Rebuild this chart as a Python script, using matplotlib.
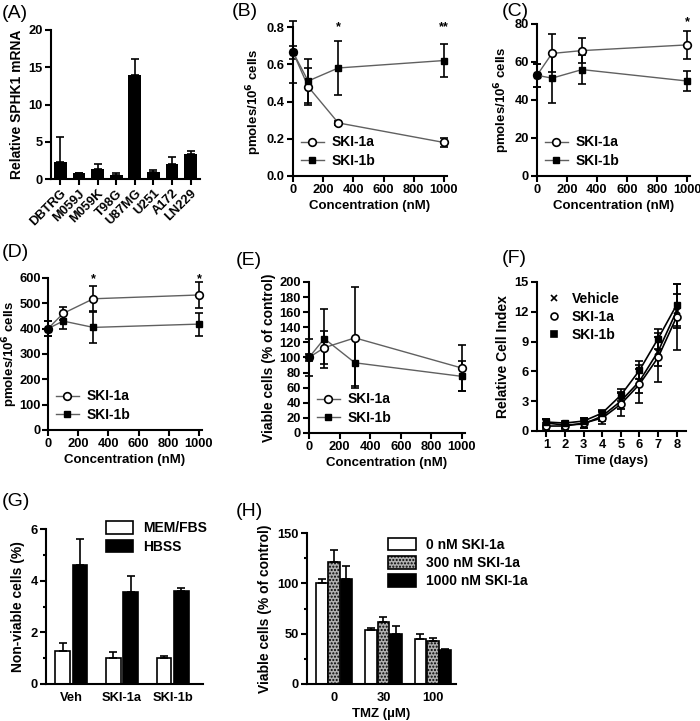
import numpy as np
import matplotlib
matplotlib.use("Agg")
import matplotlib.pyplot as plt
from matplotlib.lines import Line2D

plt.rcParams['font.family'] = ['Liberation Sans', 'DejaVu Sans']
plt.rcParams['font.weight'] = 'bold'
plt.rcParams['axes.labelweight'] = 'bold'
plt.rcParams['axes.linewidth'] = 1.5
plt.rcParams['xtick.major.width'] = 1.5
plt.rcParams['ytick.major.width'] = 1.5
plt.rcParams['xtick.minor.width'] = 1.5
plt.rcParams['ytick.minor.width'] = 1.5
plt.rcParams['xtick.major.size'] = 4
plt.rcParams['ytick.major.size'] = 4
plt.rcParams['ytick.minor.size'] = 2.5
plt.rcParams['xtick.labelsize'] = 9.3
plt.rcParams['ytick.labelsize'] = 9.3
plt.rcParams['axes.labelsize'] = 9.5

# ---- data ----
# (A) SPHK1 mRNA
lines_a = ['DBTRG', 'M059J', 'M059K', 'T98G', 'U87MG', 'U251', 'A172', 'LN229']
mrna = [2.3, 0.8, 1.4, 0.5, 14.0, 1.0, 2.0, 3.3]
mrna_err = [3.4, 0.05, 0.6, 0.3, 2.1, 0.15, 1.0, 0.4]

conc = [0, 100, 300, 1000]
# (B)
b_1a = [0.665, 0.48, 0.285, 0.18]
b_1a_err = [0.035, 0.10, 0.01, 0.025]
b_1b = [0.665, 0.51, 0.58, 0.62]
b_1b_err = [0.165, 0.12, 0.145, 0.09]
# (C)
c_1a = [53, 64.5, 66, 69]
c_1a_err = [6, 10, 6.5, 7.5]
c_1b = [53, 51.5, 56, 50]
c_1b_err = [6, 13, 7.5, 5.5]
# (D)
d_1a = [400, 460, 518, 533]
d_1a_err = [30, 25, 50, 50]
d_1b = [400, 430, 405, 418]
d_1b_err = [30, 30, 60, 45]
# (E)
e_1a = [100, 113, 126, 86]
e_1a_err = [5, 22, 67, 30]
e_1b = [100, 125, 93, 75]
e_1b_err = [25, 39, 31, 20]
# (F)
days = [1, 2, 3, 4, 5, 6, 7, 8]
f_veh = [0.8, 0.6, 0.7, 1.5, 3.0, 5.0, 8.0, 12.1]
f_veh_err = [0.4, 0.3, 0.4, 0.5, 0.8, 1.2, 1.5, 1.7]
f_1a = [0.5, 0.5, 0.8, 1.3, 2.7, 4.7, 7.4, 11.5]
f_1a_err = [0.3, 0.3, 0.5, 0.6, 1.2, 1.9, 2.5, 3.3]
f_1b = [0.9, 0.8, 1.0, 1.8, 3.6, 6.1, 9.3, 12.7]
f_1b_err = [0.3, 0.2, 0.3, 0.3, 0.6, 0.9, 1.0, 2.1]
# (G)
g_groups = ['Veh', 'SKI-1a', 'SKI-1b']
g_mem = [1.27, 1.0, 1.0]
g_mem_err = [0.32, 0.22, 0.1]
g_hbss = [4.6, 3.57, 3.6]
g_hbss_err = [1.0, 0.63, 0.13]
# (H)
tmz = ['0', '30', '100']
h_0 = [100, 54, 45]
h_0_err = [4, 2, 5]
h_300 = [121, 62, 43]
h_300_err = [12, 5, 3]
h_1000 = [104, 50, 34]
h_1000_err = [13, 8, 1]

W, H = 700, 721
fig = plt.figure(figsize=(W / 100, H / 100), dpi=100)


def add_ax(l, t, r, b):
    ax = fig.add_axes([l / W, 1 - b / H, (r - l) / W, (b - t) / H])
    ax.spines['top'].set_visible(False)
    ax.spines['right'].set_visible(False)
    ax.tick_params(direction='out', pad=2)
    return ax


def panel_label(x, y, s):
    fig.text(x / W, 1 - y / H, s, fontsize=14, fontweight='normal', va='center', ha='left')


def conc_panel(ax, a, aerr, b, berr, ylim, ticks, ylabel):
    ax.errorbar(conc, a, yerr=aerr, color='#606060', lw=1, marker='o', mfc='white', mec='black',
                mew=1.2, ms=5.5, ecolor='black', elinewidth=1.2, capsize=3, capthick=1.2,
                label='SKI-1a', clip_on=False, zorder=3)
    ax.errorbar(conc, b, yerr=berr, color='#606060', lw=1, marker='s', mfc='black', mec='black',
                ms=5, ecolor='black', elinewidth=1.2, capsize=3, capthick=1.2,
                label='SKI-1b', clip_on=False, zorder=3)
    ax.set_xlim(0, 1020)
    ax.set_xticks([0, 200, 400, 600, 800, 1000])
    ax.set_ylim(*ylim)
    ax.set_yticks(ticks)
    ax.set_xlabel('Concentration (nM)', labelpad=3)
    ax.set_ylabel(ylabel, labelpad=2)
    h, l = ax.get_legend_handles_labels()
    h = [x[0] for x in h]
    ax.legend(h, l, loc='lower left', frameon=False, fontsize=10, handlelength=1.6,
              handletextpad=0.6, labelspacing=0.3, borderaxespad=0.2)


# (A)
ax = add_ax(51, 30, 200, 179)
xa = np.arange(len(lines_a))
ax.bar(xa, mrna, width=0.68, color='black', yerr=[np.zeros(len(mrna)), mrna_err],
       error_kw=dict(ecolor='black', elinewidth=1.2, capsize=3, capthick=1.2))
ax.set_xlim(-0.5, 7.5)
ax.set_ylim(0, 20)
ax.set_yticks([0, 5, 10, 15, 20])
ax.set_xticks(xa)
ax.set_xticklabels(lines_a, rotation=45, ha='right', rotation_mode='anchor')
ax.tick_params(axis='x', length=4)
ax.set_ylabel('Relative SPHK1 mRNA', fontsize=10, labelpad=3)
panel_label(2, 14, '(A)')

# (B)
ax = add_ax(293, 27, 447, 176)
conc_panel(ax, b_1a, b_1a_err, b_1b, b_1b_err, (0, 0.8), [0, 0.2, 0.4, 0.6, 0.8], 'pmoles/10$^6$ cells')
ax.set_yticklabels(['0.0', '0.2', '0.4', '0.6', '0.8'])
ax.text(300, 0.8, '*', ha='center', va='center', fontsize=9)
ax.text(1000, 0.8, '**', ha='center', va='center', fontsize=9)
panel_label(232, 12, '(B)')

# (C)
ax = add_ax(537, 24, 690, 176)
conc_panel(ax, c_1a, c_1a_err, c_1b, c_1b_err, (0, 80), [0, 20, 40, 60, 80], 'pmoles/10$^6$ cells')
ax.text(1000, 81, '*', ha='center', va='center', fontsize=9)
panel_label(502, 12, '(C)')

# (D)
ax = add_ax(48, 278, 202, 430)
conc_panel(ax, d_1a, d_1a_err, d_1b, d_1b_err, (0, 600), [0, 100, 200, 300, 400, 500, 600], 'pmoles/10$^6$ cells')
ax.yaxis.labelpad = 0
ax.tick_params(axis='y', pad=1)
ax.text(300, 595, '*', ha='center', va='center', fontsize=9)
ax.text(1000, 595, '*', ha='center', va='center', fontsize=9)
panel_label(2, 252, '(D)')

# (E)
ax = add_ax(309, 282, 465, 433)
conc_panel(ax, e_1a, e_1a_err, e_1b, e_1b_err, (0, 200), np.arange(0, 201, 20), 'Viable cells (% of control)')
ax.yaxis.label.set_fontsize(10)
panel_label(236, 260, '(E)')

# (F)
ax = add_ax(537, 282, 686, 431)
eb = dict(color='black', lw=1.2, ecolor='black', elinewidth=1.2, capsize=3, capthick=1.2, clip_on=False)
ax.errorbar(days, f_veh, yerr=f_veh_err, marker='x', ms=5, mew=1.3, label='Vehicle', **eb)
ax.errorbar(days, f_1a, yerr=f_1a_err, marker='o', mfc='white', mec='black', mew=1.2, ms=5,
            label='SKI-1a', **eb)
ax.errorbar(days, f_1b, yerr=f_1b_err, marker='s', mfc='black', mec='black', ms=4.5,
            label='SKI-1b', **eb)
ax.set_xlim(0.5, 8.5)
ax.set_ylim(0, 15)
ax.set_xticks(days)
ax.set_yticks([0, 3, 6, 9, 12, 15])
ax.set_xlabel('Time (days)', labelpad=3)
ax.set_ylabel('Relative Cell Index', fontsize=10, labelpad=3)
h, l = ax.get_legend_handles_labels()
h = [Line2D([], [], ls='none', marker=x[0].get_marker(), mfc=x[0].get_markerfacecolor(),
            mec='black', ms=5, mew=1.2) for x in h]
ax.legend(h, l, loc='upper left', frameon=False, fontsize=10, handlelength=1.0,
          handletextpad=0.8, labelspacing=0.3, borderaxespad=0.3)
panel_label(502, 258, '(F)')

# (G)
ax = add_ax(46, 529, 203, 684)
xg = np.arange(len(g_groups))
ekw = dict(ecolor='black', elinewidth=1.2, capsize=3, capthick=1.2)
ax.bar(xg - 0.17, g_mem, width=0.29, color='white', edgecolor='black', linewidth=1.2,
       yerr=[np.zeros(3), g_mem_err], error_kw=ekw, label='MEM/FBS')
ax.bar(xg + 0.17, g_hbss, width=0.29, color='black', edgecolor='black', linewidth=1.2,
       yerr=[np.zeros(3), g_hbss_err], error_kw=ekw, label='HBSS')
ax.set_xlim(-0.5, 2.6)
ax.set_ylim(0, 6)
ax.set_yticks([0, 2, 4, 6])
ax.set_yticks([1, 3, 5], minor=True)
ax.set_xticks(xg)
ax.set_xticklabels(g_groups)
ax.tick_params(axis='x', length=0, pad=6)
ax.set_ylabel('Non-viable cells (%)', fontsize=10, labelpad=4)
ax.legend(loc='upper left', bbox_to_anchor=(0.3, 1.13), frameon=False, fontsize=10,
          handlelength=2.0, handleheight=1.0, handletextpad=0.7, labelspacing=0.3)
panel_label(2, 502, '(G)')

# (H)
ax = add_ax(307, 533, 456, 684)
xh = np.arange(len(tmz))
ax.bar(xh - 0.25, h_0, width=0.24, color='white', edgecolor='black', linewidth=1.2,
       yerr=[np.zeros(3), h_0_err], error_kw=ekw, label='0 nM SKI-1a')
ax.bar(xh, h_300, width=0.24, color='#b0b0b0', edgecolor='black', linewidth=1.2, hatch='.....',
       yerr=[np.zeros(3), h_300_err], error_kw=ekw, label='300 nM SKI-1a')
ax.bar(xh + 0.25, h_1000, width=0.24, color='black', edgecolor='black', linewidth=1.2,
       yerr=[np.zeros(3), h_1000_err], error_kw=ekw, label='1000 nM SKI-1a')
ax.set_xlim(-0.55, 2.47)
ax.set_ylim(0, 150)
ax.set_yticks([0, 50, 100, 150])
ax.set_yticks([25, 75, 125], minor=True)
ax.set_xticks(xh)
ax.set_xticklabels(tmz)
ax.tick_params(axis='x', length=0, pad=6)
ax.set_xlabel('TMZ (µM)', labelpad=3)
ax.set_ylabel('Viable cells (% of control)', fontsize=10, labelpad=4)
ax.legend(loc='upper left', bbox_to_anchor=(0.46, 1.05), frameon=False, fontsize=10,
          handlelength=2.0, handleheight=1.0, handletextpad=0.7, labelspacing=0.3)
panel_label(236, 512, '(H)')

fig.savefig('out.png', dpi=100)
